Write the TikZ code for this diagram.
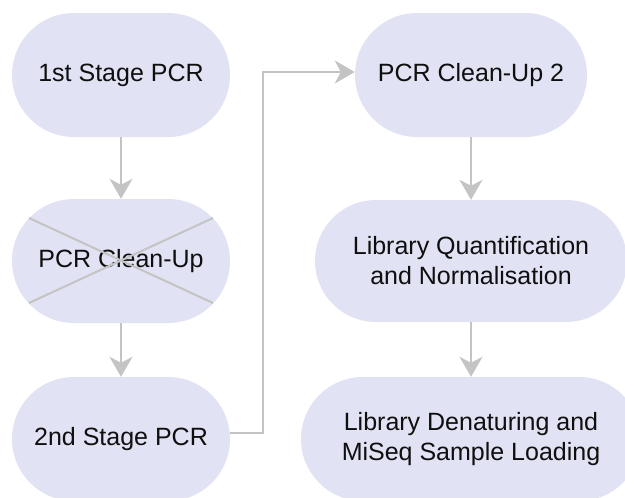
\documentclass[tikz,border=0pt]{standalone}
\usepackage{fontspec}
\setmainfont{Liberation Sans}
\usetikzlibrary{shapes.misc,arrows.meta}
\definecolor{boxfill}{RGB}{225,226,243}
\definecolor{linegray}{RGB}{196,196,196}
\definecolor{txt}{RGB}{15,15,15}
\begin{document}
\begin{tikzpicture}[x=1pt,y=-1pt,
  stagebox/.style={rounded rectangle, fill=boxfill, draw=none, minimum height=124pt,
    inner sep=0pt, align=center, text=txt, font=\fontsize{25}{30}\selectfont},
  flow/.style={draw=linegray, line width=2pt,
    -{Stealth[length=20pt,width=23pt,inset=6pt]}},
  crossline/.style={draw=linegray, line width=2pt}]
\useasboundingbox (0,0) rectangle (625,498);
\clip (0,0) rectangle (625,498);
\node[stagebox, minimum width=218pt] (n1) at (121,75) {1st Stage PCR};
\node[stagebox, minimum width=218pt] (n2) at (121,261) {PCR Clean-Up};
\node[stagebox, minimum width=218pt] (n3) at (121,439) {2nd Stage PCR};
\node[stagebox, minimum width=232pt] (n4) at (471,75) {PCR Clean-Up 2};
\node[stagebox, minimum width=312pt, minimum height=122pt] (n5) at (471,261) {Library Quantification\\and Normalisation};
\node[stagebox, minimum width=340pt] (n6) at (471,439) {Library Denaturing and\\MiSeq Sample Loading};
\coordinate (c1) at (29,218);
\coordinate (c2) at (213,303);
\draw[crossline] (c1) -- (c2);
\draw[crossline] (c1 -| c2) -- (c2 -| c1);
\draw[flow] (n1.south) -- (n2.north);
\draw[flow] (n2.south) -- (n3.north);
\draw[flow] (n4.south) -- (n5.north);
\draw[flow] (n5.south) -- (n6.north);
\coordinate (e3) at ([yshift=6pt]n3.east);
\coordinate (w4) at ([yshift=3pt]n4.west);
\draw[flow] (e3) -- (263,0 |- e3) -- (263,0 |- w4) -- (w4);
\end{tikzpicture}
\end{document}
